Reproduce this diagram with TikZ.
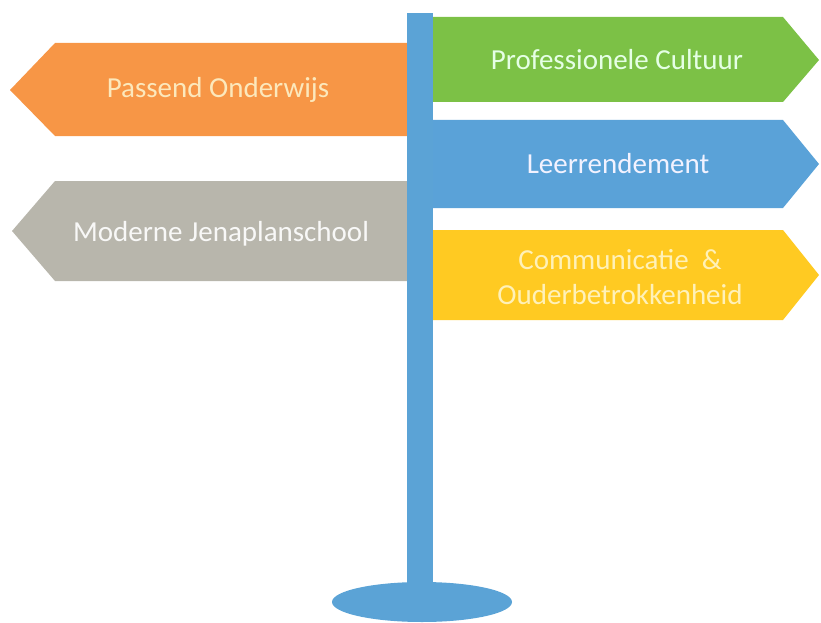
\documentclass[tikz,border=0pt]{standalone}
\usepackage{fontspec}
\setmainfont{Carlito}
\definecolor{signorange}{HTML}{F79646}
\definecolor{signgreen}{HTML}{7CC146}
\definecolor{signblue}{HTML}{5AA2D8}
\definecolor{signyellow}{HTML}{FFCA22}
\definecolor{signgray}{HTML}{B8B6AC}
\definecolor{poleblue}{HTML}{5BA3D6}
\definecolor{textcream}{HTML}{FCE8BC}
\definecolor{textlemon}{HTML}{FFF1B8}
\tikzset{
    signtext/.style={align=center, font=\fontsize{29}{35}\selectfont},
}
\begin{document}
\begin{tikzpicture}[x=1pt, y=-1pt]
            \useasboundingbox (0,0) rectangle (821,623);
            % signs pointing left
            \fill[signorange] (420,43) -- (55,43) -- (10,90) -- (55,136) -- (420,136) -- cycle;
            \fill[signgray] (420,181) -- (55,181) -- (12,231) -- (55,281) -- (420,281) -- cycle;
            % signs pointing right
            \fill[signgreen] (420,17) -- (783,17) -- (819,60) -- (783,102) -- (420,102) -- cycle;
            \fill[signblue] (420,120) -- (783,120) -- (819,164) -- (783,208) -- (420,208) -- cycle;
            \fill[signyellow] (420,230) -- (783,230) -- (819,275) -- (783,320) -- (420,320) -- cycle;

            % pole and foot
            \fill[poleblue] (407,13) rectangle (433,595);
            \fill[poleblue] (422,602) ellipse [x radius=90, y radius=20];

            \node[signtext, text=textcream] (passend) at (218,90) {Passend Onderwijs};
            \node[signtext, text=white!90!signgray] (moderne) at (221,234) {Moderne Jenaplanschool};
            \node[signtext, text=green!10!white] (profcult) at (617,60) {Professionele Cultuur};
            \node[signtext, text=blue!5!white] (leerrend) at (618,164) {Leerrendement};
            \node[signtext, text=textlemon] (communic) at (620,277) {Communicatie \ \&\\Ouderbetrokkenheid};
        \end{tikzpicture}
\end{document}
